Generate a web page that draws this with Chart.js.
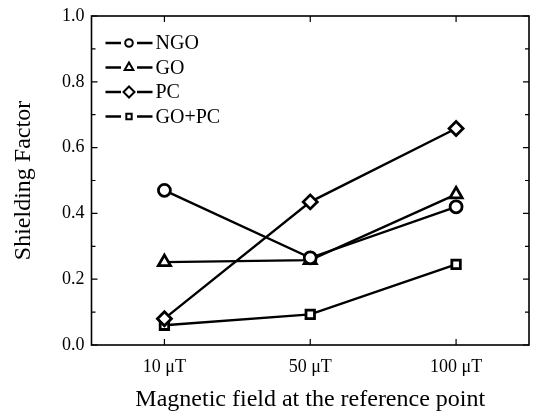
<!DOCTYPE html>
<html>
<head>
<meta charset="utf-8">
<script src="https://cdn.jsdelivr.net/npm/chart.js@4/dist/chart.umd.min.js"></script>
<style>
  html, body { margin: 0; padding: 0; background: #fff; }
  #wrap { width: 534px; height: 414px; }
</style>
</head>
<body>
<div id="wrap"><canvas id="myChart"></canvas></div>
<script>
const fields = ['10 \u03bcT', '50 \u03bcT', '100 \u03bcT'];
const ngo = [0.47, 0.265, 0.42];
const go = [0.252, 0.258, 0.458];
const pc = [0.08, 0.435, 0.658];
const goPc = [0.06, 0.093, 0.245];
const yTicks = [0, 0.2, 0.4, 0.6, 0.8, 1.0];

const serif = "'Liberation Serif', 'DejaVu Serif', serif";

function makeSet(label, values, shape) {
    return {
        label: label,
        data: values,
        borderColor: '#000',
        backgroundColor: '#fff',
        borderWidth: 2.4,
        pointStyle: shape,
        pointRadius: shape === 'triangle' ? 7 : (shape === 'rectRot' ? 7 : 6),
        pointBorderWidth: 2.8,
        pointBackgroundColor: '#fff',
        pointBorderColor: '#000',
        tension: 0
    };
}

// box, inward ticks and the legend with line + marker
const framePlugin = {
    id: 'frame',
    afterDraw(chart) {
        const ctx = chart.ctx;
        const a = chart.chartArea;
        const xs = chart.scales.x;
        const ys = chart.scales.y;
        ctx.save();
        ctx.strokeStyle = '#000';
        ctx.lineWidth = 1.6;
        ctx.strokeRect(a.left, a.top, a.right - a.left, a.bottom - a.top);
        ctx.lineWidth = 1.2;
        ctx.beginPath();
        fields.forEach((f, i) => {
            const px = xs.getPixelForValue(i);
            ctx.moveTo(px, a.bottom); ctx.lineTo(px, a.bottom - 6);
            ctx.moveTo(px, a.top); ctx.lineTo(px, a.top + 6);
        });
        for (let v = 0; v <= 1.0001; v += 0.1) {
            const py = ys.getPixelForValue(v);
            const major = Math.round(v * 10) % 2 === 0;
            const len = major ? 6 : 4;
            ctx.moveTo(a.left, py); ctx.lineTo(a.left + len, py);
            ctx.moveTo(a.right, py); ctx.lineTo(a.right - len, py);
        }
        ctx.stroke();

        // legend
        const x0 = a.left + 14, x1 = a.left + 61;
        const mid = (x0 + x1) / 2;
        chart.data.datasets.forEach((ds, i) => {
            const y = a.top + 27 + i * 24.5;
            ctx.lineWidth = 2.5;
            ctx.beginPath();
            ctx.moveTo(x0, y); ctx.lineTo(mid - 8, y);
            ctx.moveTo(mid + 8, y); ctx.lineTo(x1, y);
            ctx.stroke();
            const r = ds.pointStyle === 'triangle' ? 5 : (ds.pointStyle === 'rectRot' ? 5.5 : 3.8);
            ctx.fillStyle = '#fff';
            ctx.lineWidth = 2;
            Chart.helpers.drawPoint(ctx, {pointStyle: ds.pointStyle, radius: r, borderWidth: 2}, mid, y);
            ctx.fillStyle = '#000';
            ctx.font = '20px ' + serif;
            ctx.textBaseline = 'middle';
            ctx.textAlign = 'left';
            ctx.fillText(ds.label, x1 + 3, y + 1);
        });
        ctx.restore();
    }
};

const data = {
    labels: fields,
    datasets: [
        makeSet('NGO', ngo, 'circle'),
        makeSet('GO', go, 'triangle'),
        makeSet('PC', pc, 'rectRot'),
        makeSet('GO+PC', goPc, 'rect')
    ]
};

const config = {
    type: 'line',
    data: data,
    options: {
        responsive: true,
        maintainAspectRatio: false,
        animation: false,
        layout: { autoPadding: false, padding: { left: 12, right: 5, top: 2, bottom: 3 } },
        plugins: {
            legend: { display: false },
            tooltip: { enabled: false }
        },
        scales: {
            x: {
                type: 'category',
                offset: true,
                afterFit(scale) {
                    scale.paddingRight = 0;
                    scale.paddingLeft = 0;
                },
                grid: { display: false, drawTicks: false },
                border: { display: false },
                ticks: {
                    color: '#000',
                    padding: 15,
                    font: { family: serif, size: 18, lineHeight: 0.8 }
                },
                title: {
                    display: true,
                    text: 'Magnetic field at the reference point',
                    color: '#000',
                    font: { family: serif, size: 24, lineHeight: 0.9 },
                    padding: { top: 0, bottom: 0 }
                }
            },
            y: {
                min: 0,
                max: 1,
                afterBuildTicks(scale) {
                    scale.ticks = yTicks.map(v => ({ value: v }));
                },
                grid: { display: false, drawTicks: false },
                border: { display: false },
                ticks: {
                    color: '#000',
                    padding: 7,
                    font: { family: serif, size: 18, lineHeight: 1 },
                    callback: v => Number(v).toFixed(1)
                },
                title: {
                    display: true,
                    text: 'Shielding Factor',
                    color: '#000',
                    font: { family: serif, size: 24, lineHeight: 1 },
                    padding: { top: 0, bottom: 19 }
                }
            }
        }
    },
    plugins: [framePlugin]
};

new Chart(document.getElementById('myChart'), config);
</script>
</body>
</html>
